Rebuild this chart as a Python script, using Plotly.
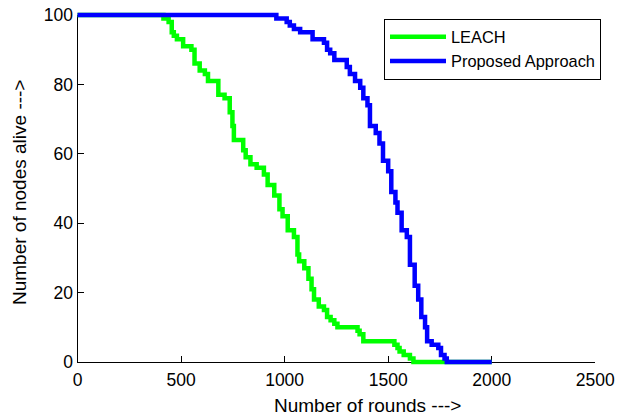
import plotly.graph_objects as go

# ---- data ----
leach_rounds = [0, 415, 440, 455, 465, 480, 510, 550, 565, 590, 615, 630, 680, 710, 735, 748, 755,
                800, 812, 835, 865, 900, 918, 950, 975, 990, 1015, 1045, 1062, 1070, 1095, 1115,
                1130, 1142, 1165, 1190, 1205, 1222, 1240, 1255, 1352, 1362, 1380, 1530, 1545, 1555,
                1575, 1605, 1622, 2000]
leach_alive = [100, 99, 98, 95, 94, 93, 91, 90, 86, 84, 83, 81, 77, 76, 72, 68, 64,
               61, 59, 57, 56, 54, 51, 48, 44, 42, 38, 36, 31, 29, 27, 24,
               21, 18, 16, 15, 13, 12, 11, 10, 9, 8, 6, 5, 4, 3,
               2, 1, 0, 0]

prop_rounds = [0, 960, 1010, 1025, 1045, 1075, 1135, 1190, 1205, 1220, 1240, 1300, 1315, 1340,
               1365, 1380, 1400, 1412, 1440, 1458, 1475, 1500, 1515, 1535, 1545, 1565, 1590,
               1605, 1628, 1645, 1660, 1678, 1688, 1710, 1742, 1755, 1772, 1783, 2000]
prop_alive = [100, 99, 98, 97, 96, 95, 93, 92, 90, 89, 87, 85, 83, 81,
              79, 76, 74, 68, 66, 63, 58, 55, 49, 46, 43, 38, 36,
              28, 22, 18, 13, 10, 6, 5, 4, 2, 1, 0, 0]

x_ticks = [0, 500, 1000, 1500, 2000, 2500]
y_ticks = [0, 20, 40, 60, 80, 100]
series_names = ["LEACH", "Proposed Approach"]
series_colors = ["#00FF00", "#0000FF"]
x_title = "Number of rounds --->"
y_title = "Number of nodes alive --->"

# ---- layout geometry ----
W, H = 620, 416
ml, mr, mt, mb = 66, 17, 4, 44
px_l, px_r, px_t, px_b = 77.5, 595.3, 15, 362
pw, ph = W - ml - mr, H - mt - mb
dx0, dx1 = (px_l - ml) / pw, (px_r - ml) / pw
dy0, dy1 = (H - mb - px_b) / ph, (H - mb - px_t) / ph
xr, yr = [0, 2500], [0, 100]
sx = (xr[1] - xr[0]) / (dx1 - dx0)
sy = (yr[1] - yr[0]) / (dy1 - dy0)
x_full = [xr[0] - dx0 * sx, xr[1] + (1 - dx1) * sx]
y_full = [yr[0] - dy0 * sy, yr[1] + (1 - dy1) * sy]


def paper_x(px):
    return (px - ml) / pw


def paper_y(py):
    return (H - mb - py) / ph


FONT = "Liberation Sans, Arial, sans-serif"

fig = go.Figure()
# empty trace so that the visible axes are drawn
fig.add_trace(go.Scatter(x=[None], y=[None], mode="lines", showlegend=False,
                         hoverinfo="skip", xaxis="x", yaxis="y"))
for xs, ys, name, col in [(leach_rounds, leach_alive, series_names[0], series_colors[0]),
                          (prop_rounds, prop_alive, series_names[1], series_colors[1])]:
    fig.add_trace(go.Scatter(x=xs, y=ys, mode="lines", name=name,
                             line=dict(color=col, width=4.5, shape="hv"),
                             xaxis="x2", yaxis="y2"))

axis_common = dict(ticks="inside", ticklen=6, tickcolor="black", showline=True,
                   linecolor="black", linewidth=1, showgrid=False, zeroline=False,
                   automargin=False, tickfont=dict(family=FONT, size=17.5, color="black"))

fig.update_layout(
    width=W, height=H,
    margin=dict(l=ml, r=mr, t=mt, b=mb, autoexpand=False),
    paper_bgcolor="white", plot_bgcolor="rgba(0,0,0,0)",
    font=dict(family=FONT, size=16, color="black"),
    showlegend=True,
    legend=dict(x=paper_x(601), xanchor="right", y=paper_y(18.5), yanchor="top",
                bgcolor="white", bordercolor="black", borderwidth=1, itemwidth=56,
                font=dict(family=FONT, size=16.4, color="black")),
    xaxis=dict(domain=[dx0, dx1], range=xr, anchor="y", tickmode="array", tickvals=x_ticks,
               ticklabelstandoff=2, **axis_common),
    yaxis=dict(domain=[dy0, dy1], range=yr, anchor="x", tickmode="array", tickvals=y_ticks,
               **axis_common),
    xaxis2=dict(domain=[0, 1], range=x_full, anchor="y2", visible=False, fixedrange=True),
    yaxis2=dict(domain=[0, 1], range=y_full, anchor="x2", visible=False, fixedrange=True),
    annotations=[
        dict(text=x_title, xref="paper", yref="paper", x=paper_x(367), y=paper_y(405),
             xanchor="center", yanchor="middle", showarrow=False,
             font=dict(family=FONT, size=19, color="black")),
        dict(text=y_title, xref="paper", yref="paper", x=paper_x(19), y=paper_y(193),
             xanchor="center", yanchor="middle", showarrow=False, textangle=-90,
             font=dict(family=FONT, size=19, color="black")),
    ],
)

fig.write_html("out.html")
